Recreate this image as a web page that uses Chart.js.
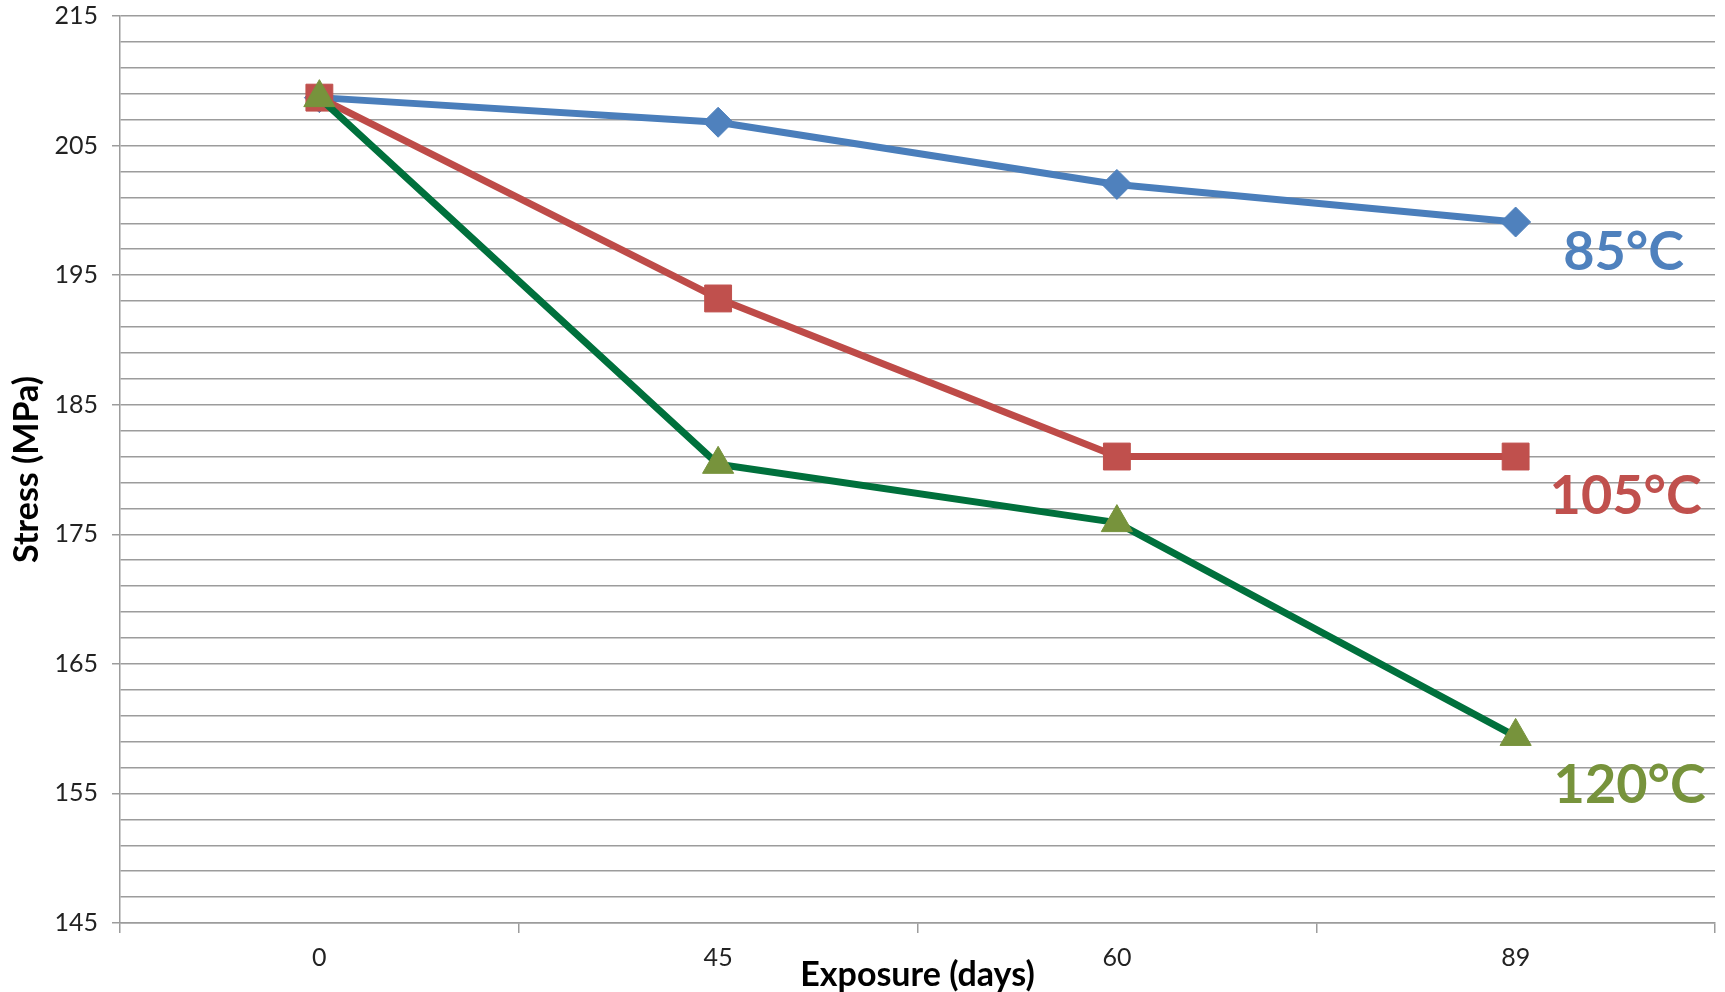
<!DOCTYPE html>
<html>
<head>
<meta charset="utf-8">
<script src="https://cdn.jsdelivr.net/npm/chart.js@4"></script>
<style>
  body { margin: 0; background: #fff; }
  #canvas { display: block; }
</style>
</head>
<body>
<canvas id="canvas" width="1725" height="992"></canvas>
<script>
// exposure days (categories)
const days = ['0', '45', '60', '89'];
// stress in MPa for each temperature
const stress85 = [208.7, 206.8, 202.0, 199.1];
const stress105 = [208.7, 193.2, 181.0, 181.0];
const stress120 = [208.7, 180.4, 175.9, 159.4];
const seriesNames = ['85°C', '105°C', '120°C'];
const yMin = 145, yMax = 215, yMajor = 10, yMinor = 2;

const gridGray = '#9c9c9c';
const font = 'Lato';

// text labels next to the last point of each line
const endLabels = {
    id: 'endLabels',
    afterDatasetsDraw(chart) {
        const c = chart.ctx;
        const offs = [[108, 48], [110, 57], [114, 67]];
        chart.data.datasets.forEach((ds, i) => {
            const meta = chart.getDatasetMeta(i);
            const pt = meta.data[meta.data.length - 1];
            c.save();
            c.font = 'bold 54px ' + font;
            c.fillStyle = ds.labelColor;
            c.textAlign = 'center';
            c.textBaseline = 'alphabetic';
            c.fillText(ds.label, pt.x + offs[i][0], pt.y + offs[i][1]);
            c.restore();
        });
    }
};

const ctx = document.getElementById('canvas').getContext('2d');
const myChart = new Chart(ctx, {
    type: 'line',
    data: {
        labels: days,
        datasets: [{
            label: seriesNames[0],
            data: stress85,
            borderColor: '#4a7ebb',
            backgroundColor: '#4f81bd',
            pointBackgroundColor: '#4f81bd',
            pointBorderColor: '#4f81bd',
            pointStyle: 'rectRot',
            pointRadius: 15,
            labelColor: '#4f81bd',
            order: 2
        }, {
            label: seriesNames[1],
            data: stress105,
            borderColor: '#be4b48',
            backgroundColor: '#c0504d',
            pointBackgroundColor: '#c0504d',
            pointBorderColor: '#c0504d',
            pointStyle: 'rect',
            pointRadius: 19,
            labelColor: '#c0504d',
            order: 1
        }, {
            label: seriesNames[2],
            data: stress120,
            borderColor: '#00703c',
            backgroundColor: '#77933c',
            pointBackgroundColor: '#77933c',
            pointBorderColor: '#77933c',
            pointStyle: 'triangle',
            pointRadius: 18,
            labelColor: '#77933c',
            order: 0
        }]
    },
    options: {
        responsive: false,
        animation: false,
        layout: { autoPadding: false, padding: { top: 16, right: 10, left: 0, bottom: 0 } },
        elements: {
            line: { borderWidth: 7, tension: 0, borderJoinStyle: 'round', borderCapStyle: 'round' },
            point: { borderWidth: 1, hoverRadius: 15 }
        },
        plugins: {
            legend: { display: false },
            tooltip: { enabled: false }
        },
        scales: {
            x: {
                offset: true,
                grid: {
                    offset: true,
                    drawOnChartArea: false,
                    drawTicks: true,
                    tickLength: 10,
                    color: gridGray,
                    lineWidth: 1.5
                },
                border: { display: true, color: gridGray, width: 1.5 },
                ticks: {
                    color: '#222',
                    padding: 10,
                    font: { family: font, size: 25 }
                },
                title: {
                    display: true,
                    text: 'Exposure (days)',
                    color: '#000',
                    font: { family: font, size: 34, weight: 'bold', lineHeight: 1 },
                    padding: { top: 0, bottom: 0 }
                },
                afterFit(scale) {
                    scale.height = 69;
                    scale.paddingLeft = 0;
                    scale.paddingRight = 0;
                }
            },
            y: {
                min: yMin,
                max: yMax,
                grid: {
                    color: gridGray,
                    lineWidth: 1.5,
                    tickLength: 8,
                    tickColor: (c) => (c.tick && (Math.round(c.tick.value) - yMin) % yMajor === 0) ? gridGray : 'rgba(0,0,0,0)'
                },
                border: { display: true, color: gridGray, width: 1.5 },
                ticks: {
                    stepSize: yMinor,
                    autoSkip: false,
                    color: '#222',
                    padding: 14,
                    font: { family: font, size: 25 },
                    callback: (v) => ((Math.round(v) - yMin) % yMajor === 0) ? Math.round(v) : ''
                },
                title: {
                    display: true,
                    text: 'Stress (MPa)',
                    color: '#000',
                    font: { family: font, size: 34, weight: 'bold', lineHeight: 1 },
                    padding: { top: 10, bottom: 0 }
                },
                afterFit(scale) {
                    scale.width = 120;
                    scale.paddingTop = 0;
                    scale.paddingBottom = 0;
                }
            }
        }
    },
    plugins: [endLabels]
});
</script>
</body>
</html>
